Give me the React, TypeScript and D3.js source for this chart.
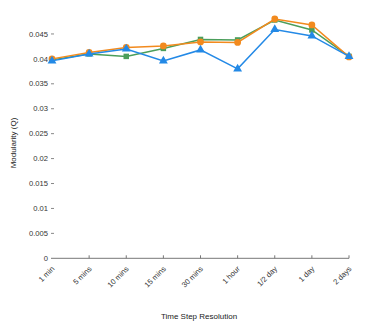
import React, { useEffect, useRef } from 'react';
import * as d3 from 'd3';

const categories = ['1 min', '5 mins', '10 mins', '15 mins', '30 mins', '1 hour', '1/2 day', '1 day', '2 days'];
const greenValues = [0.0398, 0.041, 0.0405, 0.0421, 0.0439, 0.0438, 0.0478, 0.0458, 0.0405];
const orangeValues = [0.04, 0.0413, 0.0423, 0.0426, 0.0434, 0.0433, 0.048, 0.0468, 0.0404];
const blueValues = [0.0396, 0.041, 0.042, 0.0396, 0.0418, 0.038, 0.0459, 0.0446, 0.0405];
const yTicks = [0, 0.005, 0.01, 0.015, 0.02, 0.025, 0.03, 0.035, 0.04, 0.045];

const series = [
  { name: 'green', values: greenValues, color: '#4b9e5b', symbol: d3.symbolSquare, size: 30 },
  { name: 'orange', values: orangeValues, color: '#f28a1e', symbol: d3.symbolCircle, size: 36 },
  { name: 'blue', values: blueValues, color: '#2389e6', symbol: d3.symbolTriangle, size: 34 },
];

const App = () => {
  const svgRef = useRef<SVGSVGElement>(null);

  useEffect(() => {
    const svg = d3.select(svgRef.current);
    svg.selectAll('*').remove();

    const x = d3.scalePoint<string>().domain(categories).range([52, 349]);
    const y = d3.scaleLinear().domain([0, 0.048]).range([258.3, 19]);
    const font = 'Arial, "Liberation Sans", sans-serif';

    // x axis line and ticks
    svg.append('line')
      .attr('x1', 51).attr('x2', 349)
      .attr('y1', y(0)).attr('y2', y(0))
      .attr('stroke', '#777').attr('stroke-width', 1);

    svg.append('g').selectAll('line')
      .data(categories.slice(1))
      .join('line')
      .attr('x1', d => x(d)!).attr('x2', d => x(d)!)
      .attr('y1', y(0) - 3).attr('y2', y(0))
      .attr('stroke', '#777');

    svg.append('g').selectAll('text')
      .data(categories)
      .join('text')
      .attr('transform', d => `translate(${x(d)! + 3},${y(0) + 11}) rotate(-45)`)
      .attr('text-anchor', 'end')
      .attr('font-family', font)
      .attr('font-size', 7.6)
      .attr('fill', '#333')
      .text(d => d);

    // y axis ticks and labels
    svg.append('g').selectAll('line')
      .data(yTicks.slice(1))
      .join('line')
      .attr('x1', 51).attr('x2', 54)
      .attr('y1', d => y(d)).attr('y2', d => y(d))
      .attr('stroke', '#888');

    svg.append('g').selectAll('text')
      .data(yTicks)
      .join('text')
      .attr('x', 48)
      .attr('y', d => y(d))
      .attr('dy', '0.35em')
      .attr('text-anchor', 'end')
      .attr('font-family', font)
      .attr('font-size', 7.6)
      .attr('fill', '#333')
      .text(d => d3.format('~g')(d));

    // axis titles
    svg.append('text')
      .attr('transform', `translate(16,143) rotate(-90)`)
      .attr('text-anchor', 'middle')
      .attr('font-family', font)
      .attr('font-size', 8)
      .attr('fill', '#222')
      .text('Modularity (Q)');

    svg.append('text')
      .attr('x', 199)
      .attr('y', 319)
      .attr('text-anchor', 'middle')
      .attr('font-family', font)
      .attr('font-size', 8)
      .attr('fill', '#222')
      .text('Time Step Resolution');

    const line = d3.line<number>()
      .x((_, i) => x(categories[i])!)
      .y(d => y(d));

    series.forEach(s => {
      const g = svg.append('g');
      g.append('path')
        .datum(s.values)
        .attr('fill', 'none')
        .attr('stroke', s.color)
        .attr('stroke-width', 1.5)
        .attr('d', line);
      g.selectAll('path.marker')
        .data(s.values)
        .join('path')
        .attr('class', 'marker')
        .attr('transform', (d, i) => `translate(${x(categories[i])},${y(d)})`)
        .attr('d', d3.symbol().type(s.symbol).size(s.size)())
        .attr('fill', s.color);
    });
  }, []);

  return (
    <svg
      ref={svgRef}
      width={374}
      height={327}
      style={{ position: 'absolute', left: 0, top: 0, background: '#fff' }}
    />
  );
};

export default App;
